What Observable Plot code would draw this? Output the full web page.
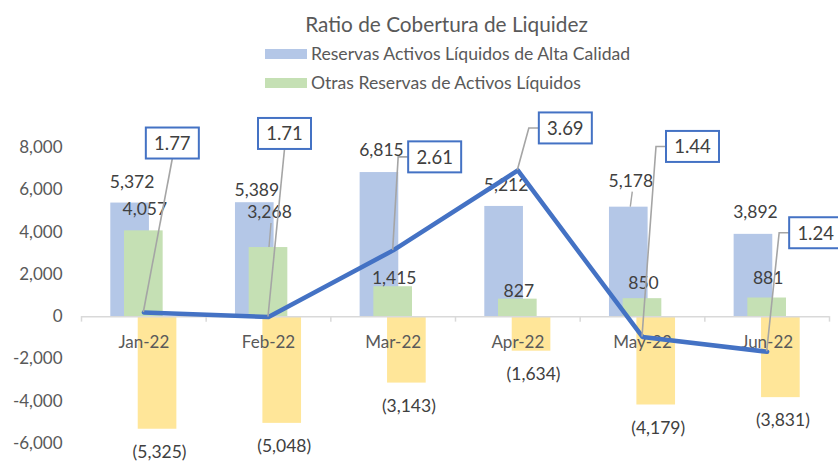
<!DOCTYPE html>
<html>
<head>
<meta charset="utf-8">
<script src="https://cdn.jsdelivr.net/npm/d3@7"></script>
<script src="https://cdn.jsdelivr.net/npm/@observablehq/plot@0.6"></script>
<style>
  html, body { margin: 0; padding: 0; background: #fff; overflow: hidden; }
  body { width: 838px; height: 461px; position: relative; font-family: Lato, "Noto Sans", sans-serif; color: #595959; }
  #header { position: relative; width: 838px; height: 100px; }
  #title { position: absolute; left: 0; width: 893px; top: 10px; text-align: center; font-size: 20.8px; line-height: 28px; }
  .leg { position: absolute; left: 265px; display: flex; align-items: center; font-size: 17.6px; line-height: 22px; white-space: nowrap; }
  .sw { width: 42px; height: 10px; margin-right: 4px; }
  #chart svg { display: block; overflow: visible; }
</style>
</head>
<body>
<div id="header">
  <div id="title">Ratio de Cobertura de Liquidez</div>
  <div class="leg" style="top:43px"><span class="sw" style="background:#B4C7E7"></span><span id="l1"></span></div>
  <div class="leg" style="top:72px"><span class="sw" style="background:#C5E0B4"></span><span id="l2"></span></div>
</div>
<div id="chart"></div>
<script>
// ---- data ----
const categories = ["Jan-22", "Feb-22", "Mar-22", "Apr-22", "May-22", "Jun-22"];
const seriesNames = ["Reservas Activos Líquidos de Alta Calidad", "Otras Reservas de Activos Líquidos"];
const hqla = [5372, 5389, 6815, 5212, 5178, 3892];
const otras = [4057, 3268, 1415, 827, 850, 881];
const salidas = [-5325, -5048, -3143, -1634, -4179, -3831];
const ratio = [1.77, 1.71, 2.61, 3.69, 1.44, 1.24];
const yTicks = [-6000, -4000, -2000, 0, 2000, 4000, 6000, 8000];

// ---- layout (pixel nudges of labels, not data) ----
const blueLabelDy = [-21, -12, -22, -21, -26, -22];
const greenLabelDy = [-21, -35, -8, -8, -15, -20];
const calloutLayout = [
  [29, -169, "bottom"], [16.5, -183, "bottom"], [42, -93, "side"],
  [48, -42, "side"], [50.5, -190, "side"], [49, -118.5, "side"]
];

document.getElementById("l1").textContent = seriesNames[0];
document.getElementById("l2").textContent = seriesNames[1];

const rows = categories.map((c, i) => ({i, c, hqla: hqla[i], otras: otras[i], salidas: salidas[i], ratio: ratio[i]}));
// secondary (hidden) axis for the ratio: [0, 4] shares the frame with [-6000, 8000]
const ratioToY = r => -6000 + r * 3500;
const fmt = d3.format(",");
const textColor = "#404040";

function labelMarks(key, dyArr, dxShift, center, format) {
  return rows.map((d, k) => Plot.text([d], {
    x: r => r.i + center, y: key, text: r => format(r[key]),
    dy: typeof dyArr === "number" ? dyArr : dyArr[k], dx: dxShift,
    fill: textColor, fontSize: 17.5
  }));
}

// short leader lines for labels that were pulled away from their bars
function labelLeaders(index, scales) {
  const g = d3.create("svg:g").attr("stroke", "#A5A5A5").attr("stroke-width", 1.4);
  const items = [];
  rows.forEach((d, k) => {
    if (greenLabelDy[k] < -30) items.push([scales.x(d.i) + 1, scales.y(d.otras), greenLabelDy[k]]);
    if (blueLabelDy[k] < -24) items.push([scales.x(d.i - 0.11) + 2, scales.y(d.hqla), blueLabelDy[k]]);
  });
  items.forEach(([x, y, dy]) => {
    g.append("line").attr("x1", x + 2).attr("y1", y + dy + 11).attr("x2", x).attr("y2", y);
  });
  return g.node();
}

function callouts(index, scales) {
  const g = d3.create("svg:g");
  rows.forEach((d, k) => {
    const px = scales.x(d.i), py = scales.y(ratioToY(d.ratio));
    const [dx, dy, kind] = calloutLayout[k];
    const cx = px + dx, cy = py + dy, w = 53, h = 31;
    const pts = kind === "bottom"
      ? [[cx, cy + h / 2], [px, py]]
      : [[cx - w / 2, cy], [cx - w / 2 - 10, cy], [px, py]];
    g.append("path").attr("d", d3.line()(pts)).attr("fill", "none")
      .attr("stroke", "#A5A5A5").attr("stroke-width", 1.6);
    g.append("rect").attr("x", cx - w / 2).attr("y", cy - h / 2).attr("width", w).attr("height", h)
      .attr("fill", "#fff").attr("stroke", "#4472C4").attr("stroke-width", 2);
    g.append("text").attr("x", cx).attr("y", cy).attr("text-anchor", "middle")
      .attr("dominant-baseline", "central").attr("fill", textColor)
      .attr("font-size", 18.5).text(d.ratio.toFixed(2));
  });
  return g.node();
}

const plot = Plot.plot({
  width: 838,
  height: 361,
  marginLeft: 81,
  marginRight: 9,
  marginTop: 47,
  marginBottom: 18,
  style: {fontFamily: "Lato, 'Noto Sans', sans-serif", fontSize: "17px", color: "#595959", background: "#fff"},
  x: {type: "linear", domain: [-0.5, 5.5], axis: null},
  y: {domain: [-6000, 8000], ticks: yTicks, tickFormat: d => d.toLocaleString("en-US"), tickSize: 0, tickPadding: 19, label: null},
  marks: [
    Plot.axisY({ticks: yTicks, tickFormat: d => d.toLocaleString("en-US"), tickSize: 0, tickPadding: 19, fill: "#595959", fontSize: 17, label: null}),
    Plot.rectY(rows, {x1: d => d.i - 0.265, x2: d => d.i + 0.045, y1: 0, y2: "hqla", fill: "#B4C7E7"}),
    Plot.rectY(rows, {x1: d => d.i - 0.155, x2: d => d.i + 0.155, y1: 0, y2: "otras", fill: "#C5E0B4"}),
    Plot.rectY(rows, {x1: d => d.i - 0.045, x2: d => d.i + 0.265, y1: 0, y2: "salidas", fill: "#FFE699"}),
    Plot.ruleY([0], {stroke: "#D9D9D9", strokeWidth: 1.5}),
    Plot.ruleX(d3.range(categories.length + 1).map(i => i - 0.5), {y1: 0, y2: -260, stroke: "#D9D9D9", strokeWidth: 1.5}),
    Plot.text(rows, {x: "i", y: 0, dy: 26, text: "c", fill: "#595959", fontSize: 17}),
    labelLeaders,
    ...labelMarks("hqla", blueLabelDy, 2, -0.11, fmt),
    ...labelMarks("otras", greenLabelDy, 1, 0, fmt),
    ...labelMarks("salidas", 23, 2, 0.11, v => `(${fmt(-v)})`),
    Plot.line(rows, {x: "i", y: d => ratioToY(d.ratio), stroke: "#4472C4", strokeWidth: 4.5, strokeLinejoin: "round", strokeLinecap: "round"}),
    callouts
  ]
});
document.getElementById("chart").appendChild(plot);
</script>
</body>
</html>
